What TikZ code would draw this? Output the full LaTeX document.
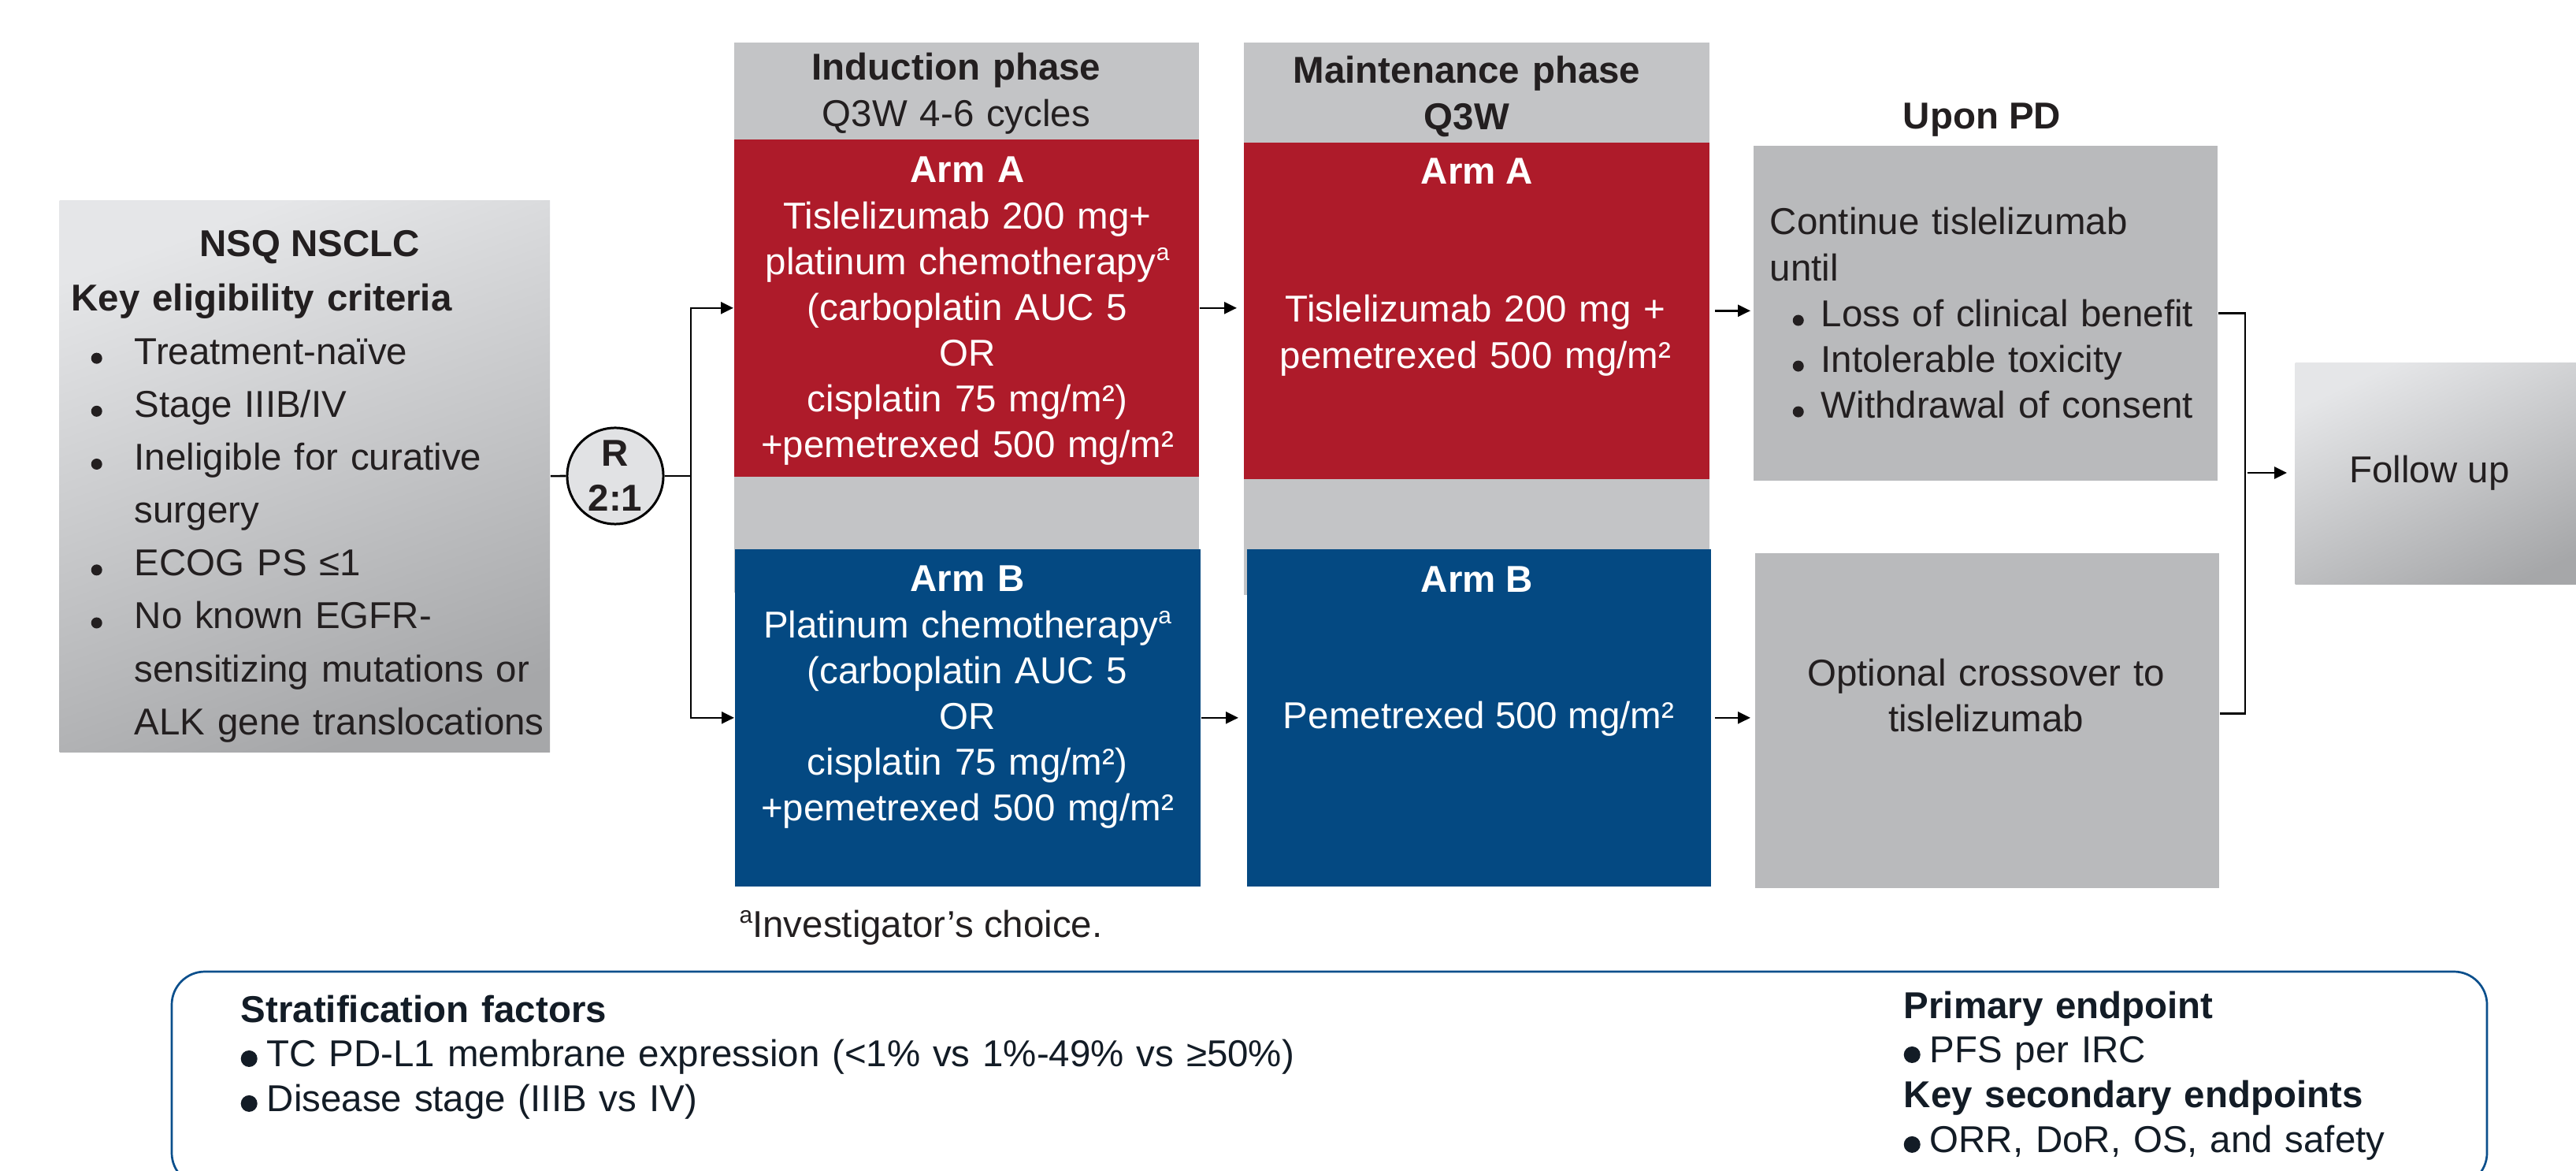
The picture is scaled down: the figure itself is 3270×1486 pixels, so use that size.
\documentclass[tikz,border=0pt]{standalone}
\usepackage{fontspec}
\setmainfont{Liberation Sans}
\usetikzlibrary{arrows.meta}

\definecolor{armred}{RGB}{174,27,42}
\definecolor{armblue}{RGB}{4,73,130}
\definecolor{phasegray}{RGB}{195,196,198}
\definecolor{pdgray}{RGB}{185,186,188}
\definecolor{randgray}{RGB}{225,226,228}
\definecolor{shadelight}{RGB}{229,230,232}
\definecolor{shadedark}{RGB}{166,167,169}
\definecolor{ink}{RGB}{35,31,32}
\definecolor{navy}{RGB}{19,28,38}
\definecolor{frameblue}{RGB}{11,79,140}

\newcommand{\minidot}{\tikz[baseline=0pt]\fill (0.07cm,0.075cm) circle[radius=0.07cm];}
\newcommand{\maxidot}{\tikz[baseline=0pt]\fill (0.105cm,0.105cm) circle[radius=0.105cm];}
\newcommand{\eligitem}{\hspace*{0.25cm}\makebox[0.55cm][l]{\minidot}}
\newcommand{\eligcont}{\hspace*{0.8cm}}
\newcommand{\pditem}{\hspace*{0.29cm}\makebox[0.36cm][l]{\minidot}}
\newcommand{\panelitem}{\maxidot\hspace{0.12cm}}
\newcommand{\fnmark}{\raisebox{0.36em}{\fontsize{8.5}{8.5}\selectfont a}}

\begin{document}
\begin{tikzpicture}[x=0.01cm,y=-0.01cm,
  txt/.style={inner sep=0pt, text=ink, font=\fontsize{13.5}{16.5}\selectfont},
  box/.style={rectangle, inner sep=0pt, anchor=north west},
  conn/.style={line width=0.75pt},
  arr/.style={conn, -{Triangle[length=0.16cm,width=0.15cm]}}]
\useasboundingbox (0,0) rectangle (3270,1486);

% boxes
\node[box, minimum width=6.22cm, minimum height=6.99cm, top color=shadelight, bottom color=shadedark, shading angle=20] (elig) at (75,254) {};
\node[box, fill=phasegray, minimum width=5.9cm, minimum height=6.98cm] (indcol) at (931,53) {};
\node[box, fill=phasegray, minimum width=5.91cm, minimum height=7.01cm] (maintcol) at (1578,53) {};
\node[box, fill=armred, minimum width=5.9cm, minimum height=4.28cm] (indA) at (931,176) {};
\node[box, fill=armblue, minimum width=5.91cm, minimum height=4.28cm] (indB) at (932,696) {};
\node[box, fill=armred, minimum width=5.91cm, minimum height=4.27cm] (maintA) at (1578,180) {};
\node[box, fill=armblue, minimum width=5.89cm, minimum height=4.28cm] (maintB) at (1582,696) {};
\node[box, fill=pdgray, minimum width=5.89cm, minimum height=4.25cm] (pdA) at (2225,184) {};
\node[box, fill=pdgray, minimum width=5.89cm, minimum height=4.25cm] (pdB) at (2227,701) {};
\node[box, minimum width=4cm, minimum height=2.81cm, top color=shadelight, bottom color=shadedark, shading angle=25] (follow) at (2913,460) {};
\node[circle, draw, line width=0.85pt, fill=randgray, minimum size=1.22cm, inner sep=0pt, text=ink, align=center,
  font=\bfseries\fontsize{13.5}{16.2}\selectfont] (rand) at (781,604) {R\\2:1};

% texts
\node[txt, anchor=base] (nsq) at (393,326) {\textbf{NSQ NSCLC}};
\node[txt, font=\fontsize{13.5}{19.1}\selectfont, text width=6.2cm, align=left, anchor=base west] (criteria) at (90,395)
  {\textbf{Key eligibility criteria}\\
   \eligitem Treatment-naïve\\
   \eligitem Stage IIIB/IV\\
   \eligitem Ineligible for curative\\
   \eligcont surgery\\
   \eligitem ECOG PS ≤1\\
   \eligitem No known EGFR-\\
   \eligcont sensitizing mutations or\\
   \eligcont ALK gene translocations};

\node[txt, text width=5.9cm, align=center, anchor=base] (indhead) at (1214,102) {\textbf{Induction phase}\\Q3W 4-6 cycles};
\node[txt, text width=5.9cm, align=center, anchor=base, font=\bfseries\fontsize{13.5}{16.5}\selectfont] (mainthead) at (1862,106) {Maintenance phase\\Q3W};
\node[txt, text=white, text width=5.9cm, align=center, anchor=base] (indAtext) at (1228,232)
  {\textbf{Arm A}\\Tislelizumab 200 mg+\\platinum chemotherapy\fnmark\\(carboplatin AUC 5\\OR\\cisplatin 75 mg/m²)\\+pemetrexed 500 mg/m²};
\node[txt, text=white, text width=5.9cm, align=center, anchor=base] (indBtext) at (1228,751)
  {\textbf{Arm B}\\Platinum chemotherapy\fnmark\\(carboplatin AUC 5\\OR\\cisplatin 75 mg/m²)\\+pemetrexed 500 mg/m²};
\node[txt, text=white, anchor=base] (maintAhead) at (1875,234) {\textbf{Arm A}};
\node[txt, text=white, text width=5.9cm, align=center, anchor=base] (maintAtext) at (1873,409) {Tislelizumab 200 mg +\\pemetrexed 500 mg/m²};
\node[txt, text=white, anchor=base] (maintBhead) at (1875,752) {\textbf{Arm B}};
\node[txt, text=white, anchor=base] (maintBtext) at (1877,925) {Pemetrexed 500 mg/m²};

\node[txt, anchor=base] (uponpd) at (2516,164) {\textbf{Upon PD}};
\node[txt, text width=5.7cm, align=left, anchor=base west] (pdAtext) at (2246,298)
  {Continue tislelizumab\\until\\
   \pditem Loss of clinical benefit\\
   \pditem Intolerable toxicity\\
   \pditem Withdrawal of consent};
\node[txt, text width=5.8cm, align=center, anchor=base] (pdBtext) at (2521,870) {Optional crossover to\\tislelizumab};
\node[txt, anchor=base] (followtext) at (3084,613) {Follow up};
\node[txt, anchor=base west] (footnote) at (938,1189) {\fnmark Investigator’s choice.};

% connectors
\coordinate (split) at (877,604);
\coordinate (join) at (2850,600);
\draw[conn] (elig) -- (rand);
\draw[conn] (rand) -- (split);
\draw[arr] (split) |- (indA);
\draw[arr] (split) |- (indB);
\draw[arr, shorten >=0.08cm] (indA.east) -- (indA.east -| maintA.west);
\draw[arr, shorten >=0.1cm] (indB.east) -- (indB.east -| maintB.west);
\draw[arr, shorten <=0.06cm, shorten >=0.03cm] (maintA.east) -- (maintA.east -| pdA.west);
\draw[arr, shorten <=0.04cm, shorten >=0.05cm] (maintB.east) -- (maintB.east -| pdB.west);
\draw[conn] (pdA.east) -| (join) |- ([yshift=0.09cm]pdB.east);
\draw[arr, shorten <=0.03cm, shorten >=0.1cm] (join) -- (join -| follow.west);

% bottom panel
\draw[frameblue, line width=0.77pt, rounded corners=0.42cm] (218,1233) rectangle (3157,1505);
\node[txt, text=navy, font=\fontsize{13.5}{16.2}\selectfont, text width=14cm, align=left, anchor=base west] (strat) at (305,1297)
  {\textbf{Stratification factors}\\
   \panelitem TC PD-L1 membrane expression (<1\% vs 1\%-49\% vs ≥50\%)\\
   \panelitem Disease stage (IIIB vs IV)};
\node[txt, text=navy, font=\fontsize{13.5}{16.2}\selectfont, text width=7cm, align=left, anchor=base west] (endpoints) at (2416,1292)
  {\textbf{Primary endpoint}\\
   \panelitem PFS per IRC\\
   \textbf{Key secondary endpoints}\\
   \panelitem ORR, DoR, OS, and safety};
\end{tikzpicture}
\end{document}
